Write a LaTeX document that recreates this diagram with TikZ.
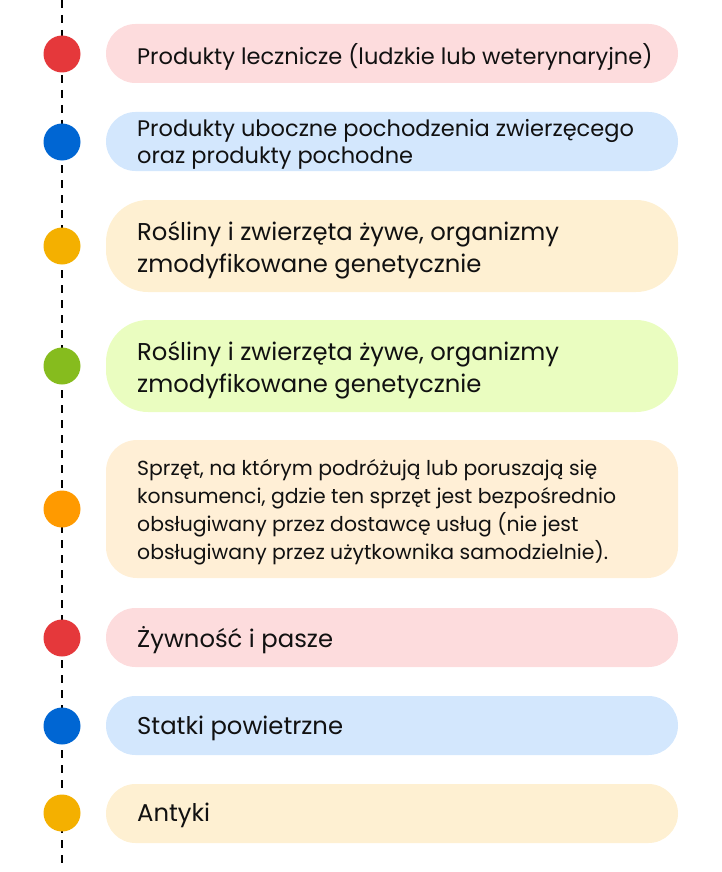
\documentclass[tikz,border=0pt]{standalone}
\usepackage{fontspec}
\setmainfont{Poppins}
\definecolor{cred}{HTML}{E5383B}
\definecolor{cblue}{HTML}{0066D3}
\definecolor{cyellow}{HTML}{F4B000}
\definecolor{cgreen}{HTML}{86BC1E}
\definecolor{corange}{HTML}{FF9A00}
\definecolor{bred}{HTML}{FDDCDD}
\definecolor{bblue}{HTML}{D3E7FD}
\definecolor{byellow}{HTML}{FEF0D2}
\definecolor{bgreen}{HTML}{EAFDC0}
\definecolor{borange}{HTML}{FFEFD6}
\definecolor{txt}{HTML}{111111}
\tikzset{
  dot/.style={circle, minimum size=37pt, inner sep=0pt, fill=#1},
  label/.style={anchor=west, align=left, inner sep=0pt, text=txt},
  timeline/.style={line width=2pt, dash pattern=on 8pt off 7pt, black},
}
\begin{document}
\begin{tikzpicture}[x=1pt,y=-1pt]
\useasboundingbox (0,0) rectangle (722,872);
\coordinate (top) at (62,0);
\coordinate (bot) at (62,868);
\draw[timeline] (top) -- (bot);
% boxes
\fill[bred, rounded corners=29.5pt] (106,24) rectangle (678,83);
\fill[bblue, rounded corners=29.5pt] (106,112) rectangle (678,171);
\fill[byellow, rounded corners=42pt] (106,200) rectangle (678,292);
\fill[bgreen, rounded corners=42pt] (106,320) rectangle (678,412);
\fill[borange, rounded corners=31pt] (106,440) rectangle (678,578);
\fill[bred, rounded corners=29.5pt] (106,608) rectangle (678,667);
\fill[bblue, rounded corners=29.5pt] (106,696) rectangle (678,755);
\fill[byellow, rounded corners=29.5pt] (106,784) rectangle (678,843);
% dots
\node[dot=cred] (d1) at (62,54) {};
\node[dot=cblue] (d2) at (62,142) {};
\node[dot=cyellow] (d3) at (62,246) {};
\node[dot=cgreen] (d4) at (62,366) {};
\node[dot=corange] (d5) at (62,509) {};
\node[dot=cred] (d6) at (62,638) {};
\node[dot=cblue] (d7) at (62,726) {};
\node[dot=cyellow] (d8) at (62,813) {};
% labels
\node[label, font=\fontsize{22.5}{27}\selectfont] (t1) at (137,56.5) {Produkty lecznicze (ludzkie lub weterynaryjne)};
\node[label, font=\fontsize{22.5}{27.5}\selectfont] (t2) at (137,144.5) {Produkty uboczne pochodzenia zwierzęcego\\oraz produkty pochodne};
\node[label, font=\fontsize{24.3}{31.5}\selectfont] (t3) at (137,250) {Rośliny i zwierzęta żywe, organizmy\\zmodyfikowane genetycznie};
\node[label, font=\fontsize{24.3}{31.5}\selectfont] (t4) at (137,370) {Rośliny i zwierzęta żywe, organizmy\\zmodyfikowane genetycznie};
\node[label, font=\fontsize{20.4}{28}\selectfont] (t5) at (137,512) {Sprzęt, na którym podróżują lub poruszają się\\konsumenci, gdzie ten sprzęt jest bezpośrednio\\obsługiwany przez dostawcę usług (nie jest\\obsługiwany przez użytkownika samodzielnie).};
\node[label, font=\fontsize{24.3}{28}\selectfont] (t6) at (137,640.5) {Żywność i pasze};
\node[label, font=\fontsize{24.3}{28}\selectfont] (t7) at (137,728.5) {Statki powietrzne};
\node[label, font=\fontsize{24.3}{28}\selectfont] (t8) at (137,815.5) {Antyki};
\end{tikzpicture}
\end{document}
